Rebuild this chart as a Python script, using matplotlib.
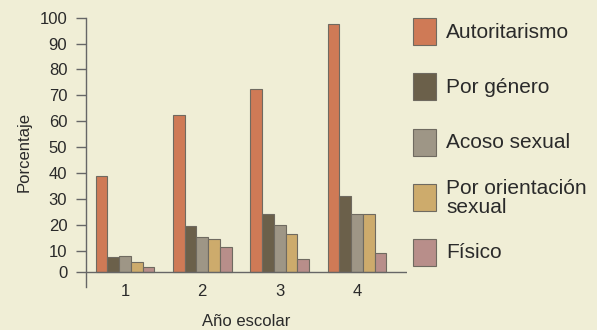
import numpy as np
import matplotlib
matplotlib.use("Agg")
from matplotlib import pyplot as plt
from matplotlib.patches import Rectangle

plt.rcParams['font.family'] = ['Liberation Sans', 'DejaVu Sans']

years = [1, 2, 3, 4]
year_labels = ['1', '2', '3', '4']
categories = ['Autoritarismo', 'Por género', 'Acoso sexual',
              'Por orientación\nsexual', 'Físico']
autoritarismo = [39, 62.5, 72.5, 97.5]
por_genero = [7, 19.5, 24, 31]
acoso_sexual = [7.5, 15.5, 20, 24]
por_orientacion = [4.9, 14.5, 16.5, 24]
fisico = [2.2, 11.5, 6.2, 9]
y_ticks = [0, 10, 20, 30, 40, 50, 60, 70, 80, 90, 100]

series = [autoritarismo, por_genero, acoso_sexual, por_orientacion, fisico]
colors = ['#cf7a56', '#6b604a', '#9e9686', '#cdab6c', '#b88e8a']
bg = '#f0eed6'
ink = '#2a2a2a'
edge = '#6f6a60'

# the 0-10 band is drawn a bit narrower than the rest of the axis
k = 0.823


def fwd(v):
    v = np.asarray(v, dtype=float)
    return np.where(v < 10, 10 - (10 - v) * k, v)


def inv(f):
    f = np.asarray(f, dtype=float)
    return np.where(f < 10, 10 - (10 - f) / k, f)


fig = plt.figure(figsize=(5.97, 3.30), dpi=100, facecolor=bg)
ax = fig.add_axes([86 / 597, 43 / 330, 321 / 597, 269.3 / 330])
ax.set_facecolor(bg)
ax.set_yscale('function', functions=(fwd, inv))

x = np.array(years, dtype=float)
w = 0.152
for i, (vals, c) in enumerate(zip(series, colors)):
    ax.bar(x + (i - 2) * w, vals, width=w, color=c, edgecolor=edge,
           linewidth=0.8, zorder=3)

ax.set_xlim(0.497, 4.645)
ax.set_ylim(float(inv(-4.0)), 100)
ax.axhline(0, color='#666666', linewidth=1.0, zorder=4)

for s in ['top', 'right', 'bottom']:
    ax.spines[s].set_visible(False)
ax.spines['left'].set_color('#666666')
ax.spines['left'].set_linewidth(1.0)

ax.set_yticks(y_ticks)
ax.set_yticklabels([str(t) for t in y_ticks])
ax.yaxis.set_minor_locator(matplotlib.ticker.NullLocator())
ax.tick_params(axis='y', length=7, width=1.0, color='#666666', pad=6.5,
               labelsize=12, labelcolor=ink)
ax.set_xticks(years)
ax.set_xticklabels(year_labels)
ax.tick_params(axis='x', length=0, pad=-2.5, labelsize=12, labelcolor=ink)

ax.set_ylabel('Porcentaje', fontsize=12, color=ink, labelpad=6)
ax.set_xlabel('Año escolar', fontsize=12, color=ink)
ax.xaxis.set_label_coords(0.5, -0.1)

# legend drawn as boxes with labels on the right side
row_y = [31.7, 86.7, 142, 197.5, 252.5]
for yc, c, lab in zip(row_y, colors, categories):
    fig.add_artist(Rectangle((413 / 597, 1 - (yc + 13.5) / 330), 23 / 597, 27 / 330,
                             transform=fig.transFigure, facecolor=c,
                             edgecolor=edge, linewidth=0.8))
    fig.text(446 / 597, 1 - (yc + 0.5) / 330, lab, fontsize=15, color=ink,
             ha='left', va='center', linespacing=0.95)

fig.savefig('out.png', dpi=100, facecolor=bg)
